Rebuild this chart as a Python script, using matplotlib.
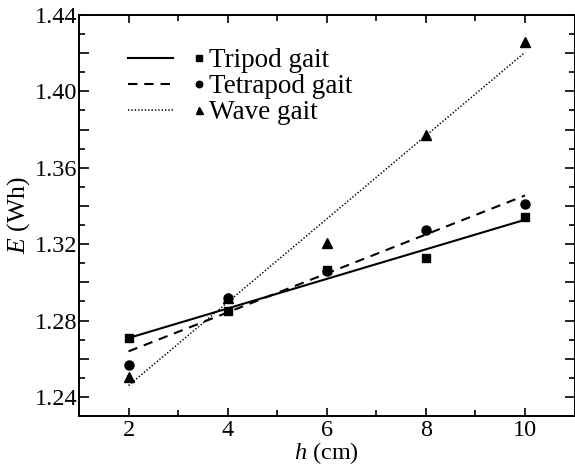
import numpy as np
import matplotlib
matplotlib.use("Agg")
import matplotlib.pyplot as plt
from matplotlib.ticker import MultipleLocator, FuncFormatter
from matplotlib.legend_handler import HandlerBase
from matplotlib.lines import Line2D

plt.rcParams['font.family'] = ['Liberation Serif', 'DejaVu Serif']
plt.rcParams['mathtext.fontset'] = 'custom'
plt.rcParams['mathtext.rm'] = 'Liberation Serif'
plt.rcParams['mathtext.it'] = 'Liberation Serif:italic'

h = [2, 4, 6, 8, 10]
tripod = [1.2708, 1.2849, 1.3062, 1.3129, 1.3342]
tetrapod = [1.2569, 1.2919, 1.3060, 1.3273, 1.3412]
wave = [1.2504, 1.2920, 1.3206, 1.3770, 1.4260]
labels = ['Tripod gait', 'Tetrapod gait', 'Wave gait']

series = [tripod, tetrapod, wave]
markers = ['s', 'o', '^']
msizes = [6, 6.5, 7]
lstyles = ['-', (0, (4.5, 3.3)), (0, (0.9, 1.3))]
lwidths = [1.5, 1.5, 1.1]

fig = plt.figure(figsize=(5.75, 4.66), dpi=100)
ax = fig.add_axes([79 / 575, 1 - 416 / 466, (574.5 - 79) / 575, (416 - 15) / 466])

x = np.array(h, dtype=float)
handles = []
for ys, mk, ms, ls, lw in zip(series, markers, msizes, lstyles, lwidths):
    ys = np.array(ys)
    k, b = np.polyfit(x, ys, 1)
    xf = np.array([x.min(), x.max()])
    ax.plot(xf, k * xf + b, color='black', linestyle=ls, linewidth=lw)
    ax.plot(x, ys, linestyle='none', marker=mk, markersize=ms, color='black')
    handles.append(Line2D([], [], color='black', linestyle=ls, linewidth=lw,
                          marker=mk, markersize=ms * 0.72))


class LineThenMarker(HandlerBase):
    def create_artists(self, legend, orig, xdescent, ydescent, width, height,
                       fontsize, trans):
        y = height / 2 - ydescent
        ln = Line2D([-xdescent, -xdescent + width * 0.61], [y, y])
        ln.update_from(orig)
        ln.set_marker('None')
        mk = Line2D([-xdescent + width * 0.96], [y])
        mk.update_from(orig)
        mk.set_linestyle('None')
        ln.set_transform(trans)
        mk.set_transform(trans)
        return [ln, mk]


ax.legend(handles, labels, handler_map={Line2D: LineThenMarker()},
          loc='upper left', bbox_to_anchor=(0.098, 0.917), frameon=False,
          fontsize=19.5, handlelength=2.74, handletextpad=0.26,
          labelspacing=0.04, borderpad=0, borderaxespad=0)

ax.set_xlim(1, 11)
ax.set_ylim(1.23, 1.44)
ax.xaxis.set_major_locator(MultipleLocator(2))
ax.xaxis.set_minor_locator(MultipleLocator(1))
ax.yaxis.set_major_locator(MultipleLocator(0.02))
ax.yaxis.set_minor_locator(MultipleLocator(0.01))
ax.yaxis.set_major_formatter(FuncFormatter(
    lambda v, p: f'{v:.2f}' if int(round(v / 0.02)) % 2 == 0 else ''))

ax.tick_params(which='both', direction='in', top=True, right=True,
               labelsize=17.5, width=1.2)
ax.tick_params(axis='x', which='major', length=6, pad=3)
ax.tick_params(axis='x', which='minor', length=4)
ax.tick_params(axis='y', which='major', length=7, pad=1)
ax.tick_params(axis='y', which='minor', length=4)
for s in ax.spines.values():
    s.set_linewidth(1.4)

ax.set_xlabel(r'$h$ (cm)', fontsize=17.5, labelpad=-1)
ax.set_ylabel(r'$E$ (Wh)', fontsize=18.5, labelpad=2)

fig.savefig('out.png', dpi=100)
